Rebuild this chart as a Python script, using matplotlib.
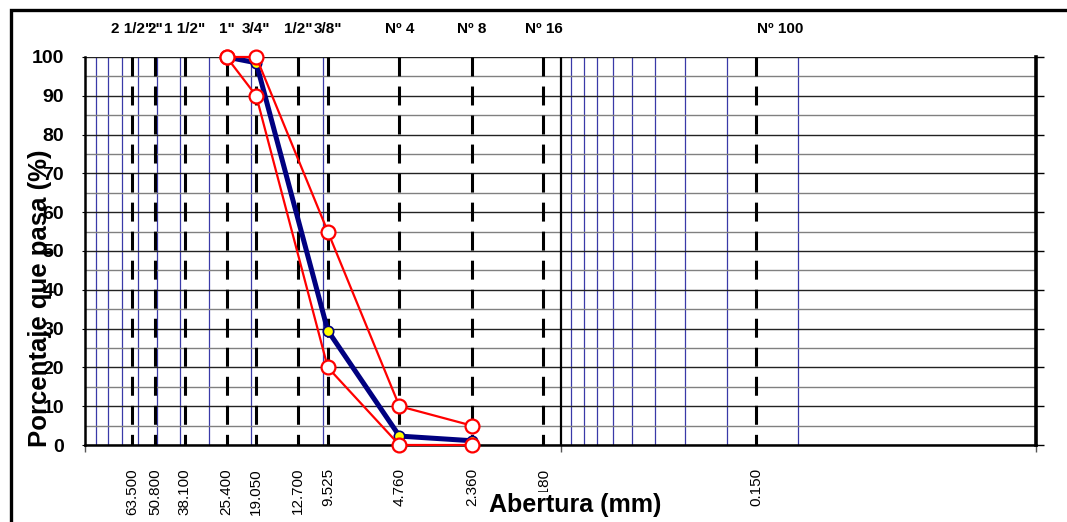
import numpy as np
import matplotlib.pyplot as plt
from matplotlib.patches import Rectangle

plt.rcParams['font.family'] = ['Liberation Sans', 'DejaVu Sans']

# sieve openings (mm) and their names
sieve_mm = [63.5, 50.8, 38.1, 25.4, 19.05, 12.7, 9.525, 4.76, 2.36, 1.18, 0.15]
sieve_names = ['2 1/2"', '2"', '1 1/2"', '1"', '3/4"', '1/2"', '3/8"',
               'Nº 4', 'Nº 8', 'Nº 16', 'Nº 100']

# grading data
sizes = [25.4, 19.05, 9.525, 4.76, 2.36]
passing = [100, 98.5, 29.5, 2.3, 1.1]
upper_limit = [100, 100, 55, 10, 5]
lower_limit = [100, 90, 20, 0, 0]

# light blue grid lines drawn by the spreadsheet
blue_grid = [90, 80, 70, 60, 50, 40, 30, 20, 10,
             0.9, 0.8, 0.7, 0.6, 0.5, 0.4, 0.3, 0.2, 0.1]

fig = plt.figure(figsize=(10.67, 5.22), dpi=100)
ax = fig.add_axes([85 / 1067, 1 - 445 / 522, 951 / 1067, 388 / 522])

ax.set_xscale('log')
ax.set_xlim(100, 0.01)
ax.set_ylim(0, 100)

# horizontal grid
ax.set_yticks(np.arange(0, 101, 10))
ax.set_yticks(np.arange(5, 100, 10), minor=True)
ax.grid(axis='y', which='major', color='#222222', lw=1.0, zorder=1)
ax.grid(axis='y', which='minor', color='#808080', lw=1.0, zorder=1)
ax.grid(axis='x', which='both', visible=False)

for g in blue_grid:
    ax.axvline(g, color='#3a3aa8', lw=0.9, zorder=1)
ax.axvline(1, color='black', lw=1.6, zorder=2)

# sieve lines
for s in sieve_mm:
    ax.plot([s, s], [100, 0], color='black', lw=2.2,
            linestyle=(0, (6.2, 3.3)), zorder=3)

# curves
ax.plot(sizes, passing, color='#000080', lw=3.6, marker='o', ms=7.5,
        mfc='yellow', mec='#000080', mew=1.2, zorder=4, clip_on=False)
for lim in (upper_limit, lower_limit):
    ax.plot(sizes, lim, color='red', lw=1.6, marker='o', ms=10,
            mfc='white', mec='red', mew=1.6, zorder=5, clip_on=False)

# x tick labels at sieve sizes, tick marks at 100, 1, 0.01
ax.set_xticks(sieve_mm)
ax.set_xticklabels([f'{s:.3f}' for s in sieve_mm], rotation=90,
                   fontsize=11, va='top')
ax.set_xticks([100, 1, 0.01], minor=True)
ax.set_xticklabels([], minor=True)
ax.tick_params(axis='x', which='major', length=0, pad=16.5)
ax.tick_params(axis='x', which='minor', length=5, width=1, color='#555555',
               direction='out')
ax.tick_params(axis='y', which='major', length=2, pad=13, labelsize=14)
ax.tick_params(axis='y', which='minor', length=0)
for lab in ax.get_yticklabels():
    lab.set_fontweight('bold')

ax2 = ax.twinx()
ax2.set_ylim(0, 100)
ax2.set_yticks(np.arange(0, 101, 10))
ax2.set_yticklabels([])
ax2.tick_params(axis='y', length=6, width=1, direction='out')
for sp in ('left', 'top', 'bottom'):
    ax2.spines[sp].set_visible(False)
ax2.spines['right'].set_linewidth(2.6)

for sp in ('left', 'bottom'):
    ax.spines[sp].set_linewidth(1.8)
ax.spines['top'].set_visible(False)
ax.spines['right'].set_visible(False)

# sieve names above the plot
for s, name in zip(sieve_mm, sieve_names):
    dx = 17 if name == 'Nº 100' else 0
    ax.annotate(name, xy=(s, 1.072), xycoords=ax.get_xaxis_transform(),
                xytext=(dx, 0), textcoords='offset points',
                ha='center', va='center', fontsize=11, fontweight='bold')

fig.text(40 / 1067, 1 - 298 / 522, 'Porcentaje que pasa (%)', rotation=90,
         ha='center', va='center', fontsize=18.5, fontweight='bold')
fig.text(575 / 1067, 1 - 505 / 522, 'Abertura (mm)', ha='center',
         va='center', fontsize=18, fontweight='bold',
         bbox=dict(facecolor='white', edgecolor='none', pad=1))

fig.patches.append(Rectangle((10.5 / 1067, -0.2), 1.2, 1.2 - 9.5 / 522,
                             transform=fig.transFigure, fill=False,
                             lw=2.4, edgecolor='black'))

fig.savefig('out.png', dpi=100)
